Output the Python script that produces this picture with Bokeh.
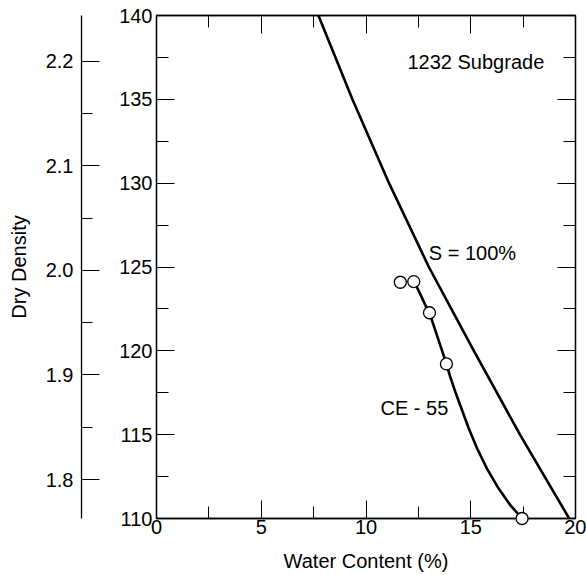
from bokeh.plotting import figure
from bokeh.models import (LinearAxis, Range1d, SingleIntervalTicker, PrintfTickFormatter,
                          CustomJSTickFormatter, Label)
from bokeh.embed import file_html
from bokeh.resources import INLINE

# ---- data ----
pcf_per_gcc = 62.4
# zero-air-voids line, S = 100 %
sat_water = [7.73, 9.35, 11.1, 13.0, 15.15, 17.35, 19.7]
sat_density = [140, 135, 130, 125, 120, 115, 110]
# CE-55 compaction test points
test_water = [11.64, 12.28, 13.03, 13.84, 17.45]
test_density = [124.09, 124.13, 122.27, 119.22, 110.0]
# CE-55 hand-drawn curve
curve_water = [12.28, 12.45, 12.6, 12.75, 12.9, 13.03, 13.3, 13.57, 13.84, 14.0, 14.27, 14.59,
               14.91, 15.31, 15.78, 16.34, 16.9, 17.45]
curve_density = [124.13, 123.75, 123.35, 122.95, 122.55, 122.27, 121.25, 120.24, 119.22, 118.53,
                 117.53, 116.44, 115.35, 114.16, 112.96, 111.77, 110.78, 110.0]

FONT = "Liberation Sans"
FS = "20px"

p = figure(width=586, height=575, x_range=Range1d(0, 20), y_range=Range1d(110, 140),
           output_backend="svg", toolbar_location=None,
           x_axis_type=None, y_axis_type=None,
           min_border_left=156, min_border_right=11, min_border_top=15, min_border_bottom=57)
p.extra_y_ranges = {"dens": Range1d(110 / pcf_per_gcc, 140 / pcf_per_gcc)}
p.outline_line_color = "black"
p.outline_line_width = 1.3
p.background_fill_color = "white"
p.border_fill_color = "white"


def style(ax, tick_major=18, tick_minor=12):
    ax.major_tick_in = tick_major
    ax.major_tick_out = 0
    ax.minor_tick_in = tick_minor
    ax.minor_tick_out = 0
    ax.axis_line_color = "black"
    ax.axis_line_width = 1.3
    ax.major_tick_line_color = "black"
    ax.minor_tick_line_color = "black"
    ax.major_label_text_font = FONT
    ax.major_label_text_font_size = FS
    ax.major_label_text_color = "black"
    ax.axis_label_text_font = FONT
    ax.axis_label_text_font_size = FS
    ax.axis_label_text_font_style = "normal"
    ax.axis_label_text_color = "black"


xb = LinearAxis(ticker=SingleIntervalTicker(interval=5, num_minor_ticks=2),
                axis_label="Water Content (%)")
style(xb)
xb.major_label_standoff = 1
xb.axis_label_standoff = 13
p.add_layout(xb, "below")

yl = LinearAxis(ticker=SingleIntervalTicker(interval=5, num_minor_ticks=2), axis_label=" ")
style(yl)
yl.major_label_standoff = 4
yl.axis_label_standoff = 10
p.add_layout(yl, "left")

dens = LinearAxis(y_range_name="dens", ticker=SingleIntervalTicker(interval=0.1, num_minor_ticks=2),
                  formatter=PrintfTickFormatter(format="%.1f"), axis_label="Dry Density")
style(dens, 18, 11)
dens.major_label_standoff = 8
dens.axis_label_standoff = 13
p.add_layout(dens, "left")

for side in ("above", "right"):
    ax = LinearAxis(ticker=SingleIntervalTicker(interval=5, num_minor_ticks=2),
                    formatter=CustomJSTickFormatter(code="return ''"))
    style(ax)
    ax.major_label_text_font_size = "0px"
    ax.major_label_standoff = 0
    p.add_layout(ax, side)

p.line(sat_water, sat_density, line_color="black", line_width=2.6)
p.line(curve_water, curve_density, line_color="black", line_width=2.6, line_join="round")
pts = p.scatter(test_water, test_density, size=12, fill_color="white", line_color="black", line_width=1.3)
pts.level = "overlay"

for txt, x, y in [("1232 Subgrade", 11.98, 137.25), ("S = 100%", 13.0, 125.86), ("CE - 55", 10.69, 116.62)]:
    p.add_layout(Label(x=x, y=y, text=txt, text_font=FONT, text_font_size=FS,
                       text_color="black", text_baseline="middle", text_align="left"))

open("out.html", "w").write(file_html(p, INLINE))
